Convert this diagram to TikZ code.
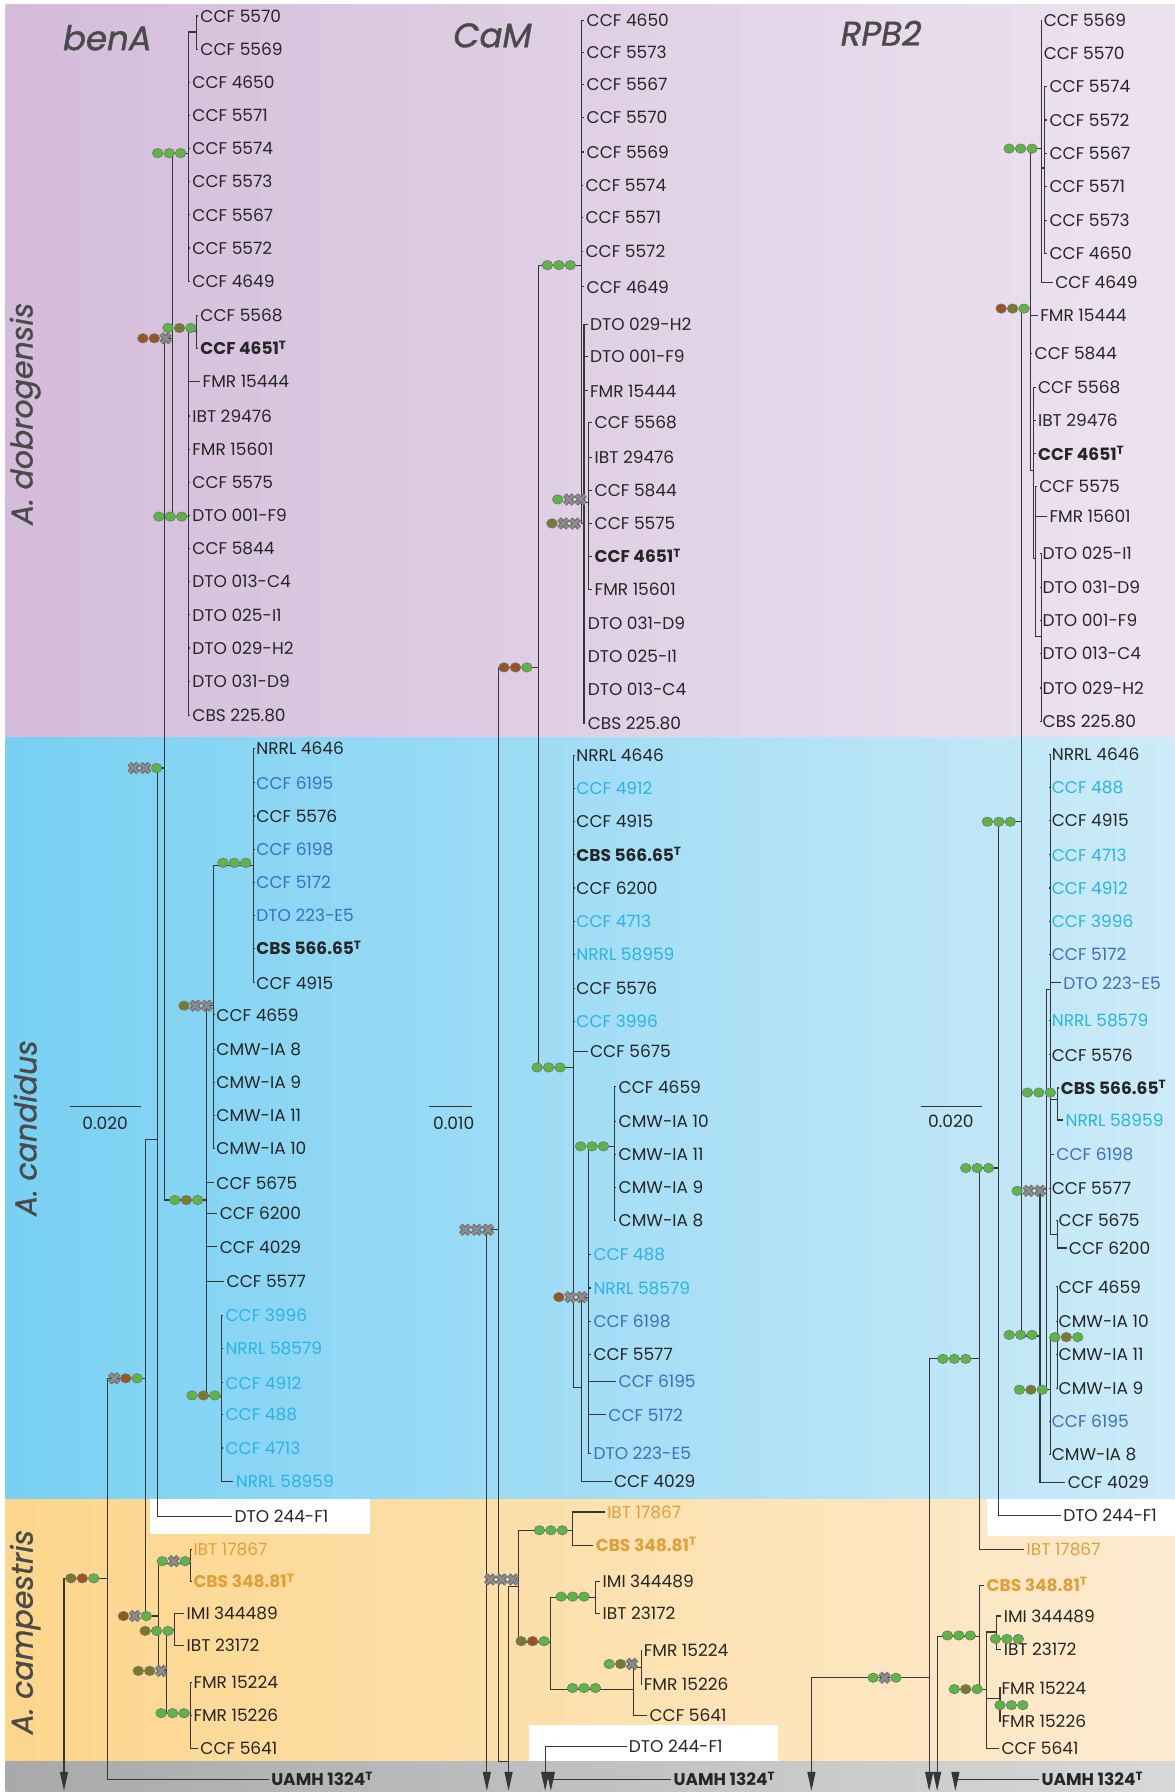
\documentclass[tikz,border=0pt]{standalone}
\usepackage{fontspec}
\setmainfont{Poppins}
\usetikzlibrary{arrows.meta}

\definecolor{txt}{HTML}{262626}
\definecolor{dblue}{HTML}{3E6DC2}
\definecolor{lblue}{HTML}{2BB3E8}
\definecolor{orng}{HTML}{E0A038}
\definecolor{ttlgray}{HTML}{4A4A4A}
\definecolor{brline}{HTML}{363636}
\definecolor{supG}{HTML}{5CB646}
\definecolor{supO}{HTML}{7A7A2C}
\definecolor{supB}{HTML}{9A5322}
\definecolor{supX}{HTML}{8C8C8C}
\definecolor{purL}{HTML}{D4BCDA}
\definecolor{purR}{HTML}{EDE3F0}
\definecolor{bluL}{HTML}{78D0F3}
\definecolor{bluR}{HTML}{CDEBF8}
\definecolor{oraL}{HTML}{FCD68C}
\definecolor{oraR}{HTML}{FDEBD0}
\definecolor{gryL}{HTML}{A8A9AB}
\definecolor{gryR}{HTML}{D8D8D8}

\newcommand{\typ}{\smash{\textsuperscript{T}}}
% three support markers, #1 = centre of the right one
\newcommand{\supdots}[5]{%
  \pic at ({#1-20},#2) {#3}; \pic at ({#1-10},#2) {#4}; \pic at (#1,#2) {#5};}

\tikzset{
  tip/.style={anchor=west, inner xsep=1pt, inner ysep=0pt, xshift=-1pt,
    text=txt, font=\fontsize{8.5}{10}\selectfont},
  dbl/.style={text=dblue},
  lbl/.style={text=lblue},
  org/.style={text=orng},
  tbf/.style={font=\fontsize{8.5}{10}\selectfont\bfseries},
  br/.style={draw=brline, line width=0.6pt},
  outarr/.style={br, -{Triangle[length=9.5pt, width=4pt]}},
  gene/.style={font=\fontsize{17}{20}\selectfont\itshape\addfontfeatures{FakeBold=1.2}, text=ttlgray},
  clade/.style={font=\fontsize{15}{18}\selectfont\itshape\addfontfeatures{FakeBold=1}, text=ttlgray, rotate=90},
  scl/.style={font=\fontsize{8.5}{10}\selectfont, text=txt},
  supdot/.style={draw=black!55, line width=0.3pt},
  supg/.pic={\filldraw[supdot, fill=supG] (0,0) ellipse (2.65pt and 2.35pt);},
  supo/.pic={\filldraw[supdot, fill=supO] (0,0) ellipse (2.65pt and 2.35pt);},
  supb/.pic={\filldraw[supdot, fill=supB] (0,0) ellipse (2.65pt and 2.35pt);},
  supx/.pic={\draw[line width=2.5pt, black!60] (-2.2pt,-2.2pt) -- (2.2pt,2.2pt) (-2.2pt,2.2pt) -- (2.2pt,-2.2pt);
             \draw[line width=1.4pt, supX] (-2.2pt,-2.2pt) -- (2.2pt,2.2pt) (-2.2pt,2.2pt) -- (2.2pt,-2.2pt);},
}

\begin{document}
\begin{tikzpicture}[x=0.5715pt, y=-0.5715pt]
  \useasboundingbox (0,0) rectangle (1028,1568);
  % bands
  \shade[left color=purL, right color=purR] (5,4) rectangle (1028,645);
  \shade[left color=bluL, right color=bluR] (5,645) rectangle (1028,1312);
  \shade[left color=oraL, right color=oraR] (5,1312) rectangle (1028,1541);
  \shade[left color=gryL, right color=gryR] (5,1541) rectangle (1028,1568);
  \fill[white] (131,1312) rectangle (324,1342);
  \fill[white] (463,1509) rectangle (681,1541);
  \fill[white] (864,1312) rectangle (1028,1344);

  \node[gene] (gA) at (94,33) {benA};
  \node[gene] (gC) at (431,31) {CaM};
  \node[gene] (gR) at (771,29) {RPB2};
  \node[clade] (cl1) at (22,362) {A. dobrogensis};
  \node[clade] (cl2) at (22,987) {A. candidus};
  \node[clade] (cl3) at (22,1428) {A. campestris};

  % ---------------- benA ----------------
  \node[tip] (b1) at (175,14) {CCF 5570};
  \node[tip] (b2) at (175,43) {CCF 5569};
  \node[tip] (b3) at (168,72) {CCF 4650};
  \node[tip] (b4) at (168,101) {CCF 5571};
  \node[tip] (b5) at (168,130) {CCF 5574};
  \node[tip] (b6) at (168,159) {CCF 5573};
  \node[tip] (b7) at (168,188) {CCF 5567};
  \node[tip] (b8) at (168,217) {CCF 5572};
  \node[tip] (b9) at (168,246) {CCF 4649};
  \node[tip] (b10) at (175,276) {CCF 5568};
  \node[tip,tbf] (b11) at (175,305) {CCF 4651\typ};
  \node[tip] (b12) at (177,334) {FMR 15444};
  \node[tip] (b13) at (168,364) {IBT 29476};
  \node[tip] (b14) at (168,393) {FMR 15601};
  \node[tip] (b15) at (168,422) {CCF 5575};
  \node[tip] (b16) at (168,451) {DTO 001-F9};
  \node[tip] (b17) at (168,480) {CCF 5844};
  \node[tip] (b18) at (168,509) {DTO 013-C4};
  \node[tip] (b19) at (168,538) {DTO 025-I1};
  \node[tip] (b20) at (168,567) {DTO 029-H2};
  \node[tip] (b21) at (168,596) {DTO 031-D9};
  \node[tip] (b22) at (168,626) {CBS 225.80};
  \node[tip] (b23) at (224,655) {NRRL 4646};
  \node[tip,dbl] (b24) at (224,685) {CCF 6195};
  \node[tip] (b25) at (224,714) {CCF 5576};
  \node[tip,dbl] (b26) at (224,743) {CCF 6198};
  \node[tip,dbl] (b27) at (224,772) {CCF 5172};
  \node[tip,dbl] (b28) at (224,801) {DTO 223-E5};
  \node[tip,tbf] (b29) at (224,830) {CBS 566.65\typ};
  \node[tip] (b30) at (224,860) {CCF 4915};
  \node[tip] (b31) at (189,888) {CCF 4659};
  \node[tip] (b32) at (189,918) {CMW-IA 8};
  \node[tip] (b33) at (189,947) {CMW-IA 9};
  \node[tip] (b34) at (189,976) {CMW-IA 11};
  \node[tip] (b35) at (189,1005) {CMW-IA 10};
  \node[tip] (b36) at (189,1035) {CCF 5675};
  \node[tip] (b37) at (192,1062) {CCF 6200};
  \node[tip] (b38) at (192,1091) {CCF 4029};
  \node[tip] (b39) at (198,1121) {CCF 5577};
  \node[tip,lbl] (b40) at (197,1151) {CCF 3996};
  \node[tip,lbl] (b41) at (197,1180) {NRRL 58579};
  \node[tip,lbl] (b42) at (197,1210) {CCF 4912};
  \node[tip,lbl] (b43) at (197,1238) {CCF 488};
  \node[tip,lbl] (b44) at (197,1267) {CCF 4713};
  \node[tip,lbl] (b45) at (206,1296) {NRRL 58959};
  \node[tip] (b46) at (205,1327) {DTO 244-F1};
  \node[tip,org] (b47) at (169,1356) {IBT 17867};
  \node[tip,tbf,org] (b48) at (169,1384) {CBS 348.81\typ};
  \node[tip] (b49) at (163,1412) {IMI 344489};
  \node[tip] (b50) at (163,1440) {IBT 23172};
  \node[tip] (b51) at (169,1472) {FMR 15224};
  \node[tip] (b52) at (169,1501) {FMR 15226};
  \node[tip] (b53) at (175,1530) {CCF 5641};
  \node[tip,tbf] (b54) at (237,1557) {UAMH 1324\typ};

  \coordinate (ba1) at (172,28);
  \coordinate (bp1) at (165,134);
  \coordinate (ba2) at (172,290);
  \coordinate (bp2) at (165,452);
  \coordinate (bdob) at (151,296);
  \coordinate (bdc) at (144,672);
  \coordinate (bc2) at (222,757);
  \coordinate (bc1) at (187,880);
  \coordinate (bc3) at (194,1222);
  \coordinate (bcand) at (181,1050);
  \coordinate (bx) at (138,997);
  \coordinate (bk1) at (167,1368);
  \coordinate (bk3) at (153,1426);
  \coordinate (bk4) at (167,1499);
  \coordinate (bk2) at (146,1462);
  \coordinate (bcamp) at (139,1414);
  \coordinate (by) at (127,1206);
  \coordinate (broot) at (94,1381);
  \coordinate (bout) at (56,1381);
  \coordinate (boutend) at (56,1567);

  \foreach \i in {1,2} \draw[br] (ba1) |- (b\i.west);
  \draw[br] (bp1) |- (ba1);
  \foreach \i in {3,...,9} \draw[br] (bp1) |- (b\i.west);
  \foreach \i in {10,11} \draw[br] (ba2) |- (b\i.west);
  \draw[br] (bp2) |- (ba2);
  \foreach \i in {12,...,22} \draw[br] (bp2) |- (b\i.west);
  \draw[br] (bdob) |- (bp1);
  \draw[br] (bdob) |- (bp2);
  \draw[br] (bdc) |- (bdob);
  \draw[br] (bdc) |- (bcand);
  \foreach \i in {23,...,30} \draw[br] (bc2) |- (b\i.west);
  \draw[br] (bc1) |- (bc2);
  \foreach \i in {31,...,35} \draw[br] (bc1) |- (b\i.west);
  \foreach \i in {40,...,45} \draw[br] (bc3) |- (b\i.west);
  \draw[br] (bcand) |- (bc1);
  \draw[br] (bcand) |- (bc3);
  \foreach \i in {36,...,39} \draw[br] (bcand) |- (b\i.west);
  \draw[br] (bx) |- (bdc);
  \draw[br] (bx) |- (b46.west);
  \foreach \i in {47,48} \draw[br] (bk1) |- (b\i.west);
  \foreach \i in {49,50} \draw[br] (bk3) |- (b\i.west);
  \foreach \i in {51,52,53} \draw[br] (bk4) |- (b\i.west);
  \draw[br] (bk2) |- (bk3);
  \draw[br] (bk2) |- (bk4);
  \draw[br] (bcamp) |- (bk1);
  \draw[br] (bcamp) |- (bk2);
  \draw[br] (by) |- (bx);
  \draw[br] (by) |- (bcamp);
  \draw[br] (broot) |- (by);
  \draw[br] (broot) |- (b54.west);
  \draw[br] (broot) -- (bout);
  \draw[outarr] (bout) -- (boutend);

  \supdots{158}{134}{supg}{supg}{supg}
  \supdots{167}{287}{supg}{supo}{supg}
  \supdots{145}{296}{supb}{supb}{supx}
  \supdots{159}{452}{supg}{supg}{supg}
  \supdots{137}{672}{supx}{supx}{supg}
  \supdots{215}{755}{supg}{supg}{supg}
  \supdots{181}{880}{supo}{supx}{supx}
  \supdots{173}{1050}{supg}{supo}{supg}
  \supdots{188}{1221}{supg}{supo}{supg}
  \supdots{120}{1206}{supx}{supb}{supg}
  \supdots{128}{1414}{supb}{supx}{supg}
  \supdots{162}{1366}{supg}{supx}{supg}
  \supdots{147}{1427}{supo}{supg}{supg}
  \supdots{141}{1462}{supo}{supo}{supx}
  \supdots{161}{1499}{supg}{supg}{supg}
  \supdots{82}{1381}{supo}{supb}{supg}

  \coordinate (sA1) at (61,968);
  \coordinate (sA2) at (123,968);
  \draw[br] (sA1) -- (sA2);
  \node[scl] (sAl) at (92,983) {0.020};

  % ---------------- CaM ----------------
  \node[tip] (m1) at (513,18) {CCF 4650};
  \node[tip] (m2) at (513,46) {CCF 5573};
  \node[tip] (m3) at (513,74) {CCF 5567};
  \node[tip] (m4) at (513,103) {CCF 5570};
  \node[tip] (m5) at (513,133) {CCF 5569};
  \node[tip] (m6) at (512,162) {CCF 5574};
  \node[tip] (m7) at (512,190) {CCF 5571};
  \node[tip] (m8) at (512,220) {CCF 5572};
  \node[tip] (m9) at (513,251) {CCF 4649};
  \node[tip] (m10) at (516,284) {DTO 029-H2};
  \node[tip] (m11) at (516,312) {DTO 001-F9};
  \node[tip] (m12) at (516,342) {FMR 15444};
  \node[tip] (m13) at (520,370) {CCF 5568};
  \node[tip] (m14) at (520,400) {IBT 29476};
  \node[tip] (m15) at (520,429) {CCF 5844};
  \node[tip] (m16) at (520,458) {CCF 5575};
  \node[tip,tbf] (m17) at (520,487) {CCF 4651\typ};
  \node[tip] (m18) at (520,516) {FMR 15601};
  \node[tip] (m19) at (514,545) {DTO 031-D9};
  \node[tip] (m20) at (514,574) {DTO 025-I1};
  \node[tip] (m21) at (514,603) {DTO 013-C4};
  \node[tip] (m22) at (514,633) {CBS 225.80};
  \node[tip] (m23) at (504,661) {NRRL 4646};
  \node[tip,lbl] (m24) at (504,690) {CCF 4912};
  \node[tip] (m25) at (504,719) {CCF 4915};
  \node[tip,tbf] (m26) at (504,748) {CBS 566.65\typ};
  \node[tip] (m27) at (504,777) {CCF 6200};
  \node[tip,lbl] (m28) at (504,806) {CCF 4713};
  \node[tip,lbl] (m29) at (504,835) {NRRL 58959};
  \node[tip] (m30) at (504,865) {CCF 5576};
  \node[tip,lbl] (m31) at (504,894) {CCF 3996};
  \node[tip] (m32) at (516,920) {CCF 5675};
  \node[tip] (m33) at (541,951) {CCF 4659};
  \node[tip] (m34) at (541,981) {CMW-IA 10};
  \node[tip] (m35) at (541,1010) {CMW-IA 11};
  \node[tip] (m36) at (541,1039) {CMW-IA 9};
  \node[tip] (m37) at (541,1068) {CMW-IA 8};
  \node[tip,lbl] (m38) at (519,1098) {CCF 488};
  \node[tip,lbl] (m39) at (519,1127) {NRRL 58579};
  \node[tip,dbl] (m40) at (519,1156) {CCF 6198};
  \node[tip] (m41) at (519,1185) {CCF 5577};
  \node[tip,dbl] (m42) at (541,1209) {CCF 6195};
  \node[tip,dbl] (m43) at (532,1238) {CCF 5172};
  \node[tip,dbl] (m44) at (519,1272) {DTO 223-E5};
  \node[tip] (m45) at (537,1296) {CCF 4029};
  \node[tip,org] (m46) at (531,1323) {IBT 17867};
  \node[tip,tbf,org] (m47) at (521,1352) {CBS 348.81\typ};
  \node[tip] (m48) at (527,1384) {IMI 344489};
  \node[tip] (m49) at (527,1412) {IBT 23172};
  \node[tip] (m50) at (563,1444) {FMR 15224};
  \node[tip] (m51) at (563,1474) {FMR 15226};
  \node[tip] (m52) at (568,1501) {CCF 5641};
  \node[tip] (m53) at (550,1528) {DTO 244-F1};
  \node[tip,tbf] (m54) at (589,1557) {UAMH 1324\typ};

  \coordinate (md1) at (509,232);
  \coordinate (md2) at (511,458);
  \coordinate (md3) at (515,440);
  \coordinate (mdc) at (471,584);
  \coordinate (mcand) at (502,934);
  \coordinate (mc5) at (509,1214);
  \coordinate (mc6) at (515,1135);
  \coordinate (mcm) at (538,1003);
  \coordinate (mtop) at (436,1076);
  \coordinate (mleft) at (426,1076);
  \coordinate (mleftend) at (426,1567);
  \coordinate (mj) at (445,1541);
  \coordinate (mcs) at (445,1388);
  \coordinate (mcsend) at (445,1567);
  \coordinate (mcamp) at (454,1388);
  \coordinate (mk1) at (501,1339);
  \coordinate (mk2) at (482,1437);
  \coordinate (mk3) at (521,1398);
  \coordinate (mk4) at (554,1478);
  \coordinate (mk5) at (561,1459);
  \coordinate (mdto) at (477,1528);
  \coordinate (mdtoend) at (477,1567);
  \coordinate (muam) at (482,1557);
  \coordinate (muamend) at (482,1567);

  \foreach \i in {1,...,9} \draw[br] (md1) |- (m\i.west);
  \draw[br] (md1) |- (md2);
  \foreach \i in {10,11,12,19,20,21,22} \draw[br] (md2) |- (m\i.west);
  \draw[br] (md2) |- (md3);
  \foreach \i in {13,...,18} \draw[br] (md3) |- (m\i.west);
  \draw[br] (mdc) |- (md1);
  \draw[br] (mdc) |- (mcand);
  \foreach \i in {23,...,32} \draw[br] (mcand) |- (m\i.west);
  \draw[br] (mcand) |- (mc5);
  \draw[br] (mc5) |- (mc6);
  \draw[br] (mc5) |- (m45.west);
  \draw[br] (mc6) |- (mcm);
  \foreach \i in {38,...,44} \draw[br] (mc6) |- (m\i.west);
  \foreach \i in {33,...,37} \draw[br] (mcm) |- (m\i.west);
  \draw[br] (mtop) |- (mdc);
  \draw[br] (mtop) |- (mj);
  \draw[br] (mtop) -- (mleft);
  \draw[outarr] (mleft) -- (mleftend);
  \draw[br] (mcs) -- (mcamp);
  \draw[outarr] (mcs) -- (mcsend);
  \draw[br] (mcamp) |- (mk1);
  \draw[br] (mcamp) |- (mk2);
  \foreach \i in {46,47} \draw[br] (mk1) |- (m\i.west);
  \draw[br] (mk2) |- (mk3);
  \draw[br] (mk2) |- (mk4);
  \foreach \i in {48,49} \draw[br] (mk3) |- (m\i.west);
  \draw[br] (mk4) |- (mk5);
  \draw[br] (mk4) |- (m52.west);
  \foreach \i in {50,51} \draw[br] (mk5) |- (m\i.west);
  \draw[br] (mdto) -- (m53.west);
  \draw[outarr] (mdto) -- (mdtoend);
  \draw[br] (muam) -- (m54.west);
  \draw[outarr] (muam) -- (muamend);

  \supdots{499}{232}{supg}{supg}{supg}
  \supdots{508}{437}{supg}{supx}{supx}
  \supdots{503}{458}{supo}{supx}{supx}
  \supdots{461}{584}{supb}{supb}{supg}
  \supdots{490}{934}{supg}{supg}{supg}
  \supdots{528}{1003}{supg}{supg}{supg}
  \supdots{509}{1135}{supb}{supx}{supx}
  \supdots{427}{1076}{supx}{supx}{supx}
  \supdots{449}{1382}{supx}{supx}{supx}
  \supdots{492}{1339}{supg}{supg}{supg}
  \supdots{476}{1436}{supo}{supb}{supg}
  \supdots{511}{1397}{supg}{supg}{supg}
  \supdots{521}{1477}{supg}{supg}{supg}
  \supdots{553}{1456}{supg}{supo}{supx}

  \coordinate (sC1) at (375,968);
  \coordinate (sC2) at (413,968);
  \draw[br] (sC1) -- (sC2);
  \node[scl] (sCl) at (397,983) {0.010};

  % ---------------- RPB2 ----------------
  \node[tip] (r1) at (913,18) {CCF 5569};
  \node[tip] (r2) at (913,47) {CCF 5570};
  \node[tip] (r3) at (918,76) {CCF 5574};
  \node[tip] (r4) at (918,105) {CCF 5572};
  \node[tip] (r5) at (918,134) {CCF 5567};
  \node[tip] (r6) at (918,163) {CCF 5571};
  \node[tip] (r7) at (918,193) {CCF 5573};
  \node[tip] (r8) at (918,222) {CCF 4650};
  \node[tip] (r9) at (923,247) {CCF 4649};
  \node[tip] (r10) at (910,276) {FMR 15444};
  \node[tip] (r11) at (905,309) {CCF 5844};
  \node[tip] (r12) at (908,339) {CCF 5568};
  \node[tip] (r13) at (908,368) {IBT 29476};
  \node[tip,tbf] (r14) at (908,397) {CCF 4651\typ};
  \node[tip] (r15) at (909,426) {CCF 5575};
  \node[tip] (r16) at (918,452) {FMR 15601};
  \node[tip] (r17) at (912,484) {DTO 025-I1};
  \node[tip] (r18) at (912,514) {DTO 031-D9};
  \node[tip] (r19) at (912,543) {DTO 001-F9};
  \node[tip] (r20) at (912,572) {DTO 013-C4};
  \node[tip] (r21) at (912,602) {DTO 029-H2};
  \node[tip] (r22) at (912,631) {CBS 225.80};
  \node[tip] (r23) at (920,660) {NRRL 4646};
  \node[tip,lbl] (r24) at (920,689) {CCF 488};
  \node[tip] (r25) at (920,718) {CCF 4915};
  \node[tip,lbl] (r26) at (920,748) {CCF 4713};
  \node[tip,lbl] (r27) at (920,777) {CCF 4912};
  \node[tip,lbl] (r28) at (920,806) {CCF 3996};
  \node[tip,dbl] (r29) at (920,835) {CCF 5172};
  \node[tip,dbl] (r30) at (930,860) {DTO 223-E5};
  \node[tip,lbl] (r31) at (920,893) {NRRL 58579};
  \node[tip] (r32) at (920,923) {CCF 5576};
  \node[tip,tbf] (r33) at (928,952) {CBS 566.65\typ};
  \node[tip,lbl] (r34) at (932,980) {NRRL 58959};
  \node[tip,dbl] (r35) at (924,1010) {CCF 6198};
  \node[tip] (r36) at (920,1040) {CCF 5577};
  \node[tip] (r37) at (926,1068) {CCF 5675};
  \node[tip] (r38) at (935,1092) {CCF 6200};
  \node[tip] (r39) at (926,1126) {CCF 4659};
  \node[tip] (r40) at (926,1156) {CMW-IA 10};
  \node[tip] (r41) at (926,1185) {CMW-IA 11};
  \node[tip] (r42) at (926,1215) {CMW-IA 9};
  \node[tip,dbl] (r43) at (920,1244) {CCF 6195};
  \node[tip] (r44) at (920,1273) {CMW-IA 8};
  \node[tip] (r45) at (934,1297) {CCF 4029};
  \node[tip] (r46) at (930,1326) {DTO 244-F1};
  \node[tip,org] (r47) at (898,1356) {IBT 17867};
  \node[tip,tbf,org] (r48) at (863,1387) {CBS 348.81\typ};
  \node[tip] (r49) at (878,1414) {IMI 344489};
  \node[tip] (r50) at (878,1443) {IBT 23172};
  \node[tip] (r51) at (876,1477) {FMR 15224};
  \node[tip] (r52) at (876,1506) {FMR 15226};
  \node[tip] (r53) at (876,1530) {CCF 5641};
  \node[tip,tbf] (r54) at (911,1557) {UAMH 1324\typ};

  \coordinate (ra1) at (911,130);
  \coordinate (ra2) at (914,147);
  \coordinate (rdob) at (902,270);
  \coordinate (rc) at (904,412);
  \coordinate (rd) at (906,489);
  \coordinate (re) at (911,557);
  \coordinate (rp) at (919,866);
  \coordinate (rs) at (925,962);
  \coordinate (rt) at (925,1080);
  \coordinate (ru) at (925,1170);
  \coordinate (rq) at (919,1216);
  \coordinate (rcc) at (916,1041);
  \coordinate (rcand) at (910,1169);
  \coordinate (rdc) at (894,719);
  \coordinate (rx) at (874,1022);
  \coordinate (ry) at (857,1189);
  \coordinate (rtop) at (813,1468);
  \coordinate (rtopend) at (813,1567);
  \coordinate (rout) at (710,1468);
  \coordinate (routend) at (710,1567);
  \coordinate (rcs) at (820,1432);
  \coordinate (rcsend) at (820,1567);
  \coordinate (rcamp) at (857,1432);
  \coordinate (rk) at (863,1478);
  \coordinate (rk1) at (872,1428);
  \coordinate (rk2) at (875,1486);
  \coordinate (ruam) at (836,1557);
  \coordinate (ruamend) at (836,1567);

  \foreach \i in {1,2,9} \draw[br] (ra1) |- (r\i.west);
  \draw[br] (ra1) |- (ra2);
  \foreach \i in {3,...,8} \draw[br] (ra2) |- (r\i.west);
  \draw[br] (rdob) |- (ra1);
  \foreach \i in {10,11} \draw[br] (rdob) |- (r\i.west);
  \draw[br] (rdob) |- (rc);
  \foreach \i in {12,13,14} \draw[br] (rc) |- (r\i.west);
  \draw[br] (rc) |- (rd);
  \foreach \i in {15,16} \draw[br] (rd) |- (r\i.west);
  \draw[br] (rd) |- (re);
  \foreach \i in {17,...,22} \draw[br] (re) |- (r\i.west);
  \foreach \i in {23,...,32,35,36} \draw[br] (rp) |- (r\i.west);
  \draw[br] (rp) |- (rs);
  \draw[br] (rp) |- (rt);
  \foreach \i in {33,34} \draw[br] (rs) |- (r\i.west);
  \foreach \i in {37,38} \draw[br] (rt) |- (r\i.west);
  \foreach \i in {39,...,42} \draw[br] (ru) |- (r\i.west);
  \draw[br] (rq) |- (ru);
  \foreach \i in {43,44} \draw[br] (rq) |- (r\i.west);
  \draw[br] (rcc) |- (rp);
  \draw[br] (rcc) |- (rq);
  \draw[br] (rcand) |- (rcc);
  \draw[br] (rcand) |- (r45.west);
  \draw[br] (rdc) |- (rdob);
  \draw[br] (rdc) |- (rcand);
  \draw[br] (rx) |- (rdc);
  \draw[br] (rx) |- (r46.west);
  \draw[br] (ry) |- (rx);
  \draw[br] (ry) |- (r47.west);
  \draw[br] (rtop) |- (ry);
  \draw[outarr] (rtop) -- (rtopend);
  \draw[br] (rtop) -- (rout);
  \draw[outarr] (rout) -- (routend);
  \draw[br] (rcs) -- (rcamp);
  \draw[outarr] (rcs) -- (rcsend);
  \draw[br] (rcamp) |- (r48.west);
  \draw[br] (rcamp) |- (rk);
  \draw[br] (rk) |- (rk1);
  \draw[br] (rk) |- (rk2);
  \draw[br] (rk) |- (r53.west);
  \foreach \i in {49,50} \draw[br] (rk1) |- (r\i.west);
  \foreach \i in {51,52} \draw[br] (rk2) |- (r\i.west);
  \draw[br] (ruam) -- (r54.west);
  \draw[outarr] (ruam) -- (ruamend);

  \supdots{903}{130}{supg}{supg}{supg}
  \supdots{896}{270}{supb}{supo}{supg}
  \supdots{884}{719}{supg}{supg}{supg}
  \supdots{865}{1022}{supg}{supg}{supg}
  \supdots{845}{1189}{supg}{supg}{supg}
  \supdots{910}{1042}{supg}{supx}{supx}
  \supdots{919}{956}{supg}{supg}{supg}
  \supdots{903}{1168}{supg}{supg}{supg}
  \supdots{943}{1170}{supg}{supo}{supg}
  \supdots{912}{1216}{supg}{supo}{supg}
  \supdots{784}{1468}{supg}{supx}{supg}
  \supdots{849}{1431}{supg}{supg}{supg}
  \supdots{855}{1478}{supg}{supo}{supg}
  \supdots{891}{1434}{supg}{supg}{supg}
  \supdots{895}{1492}{supg}{supg}{supg}

  \coordinate (sR1) at (806,968);
  \coordinate (sR2) at (859,968);
  \draw[br] (sR1) -- (sR2);
  \node[scl] (sRl) at (832,981) {0.020};
\end{tikzpicture}
\end{document}
